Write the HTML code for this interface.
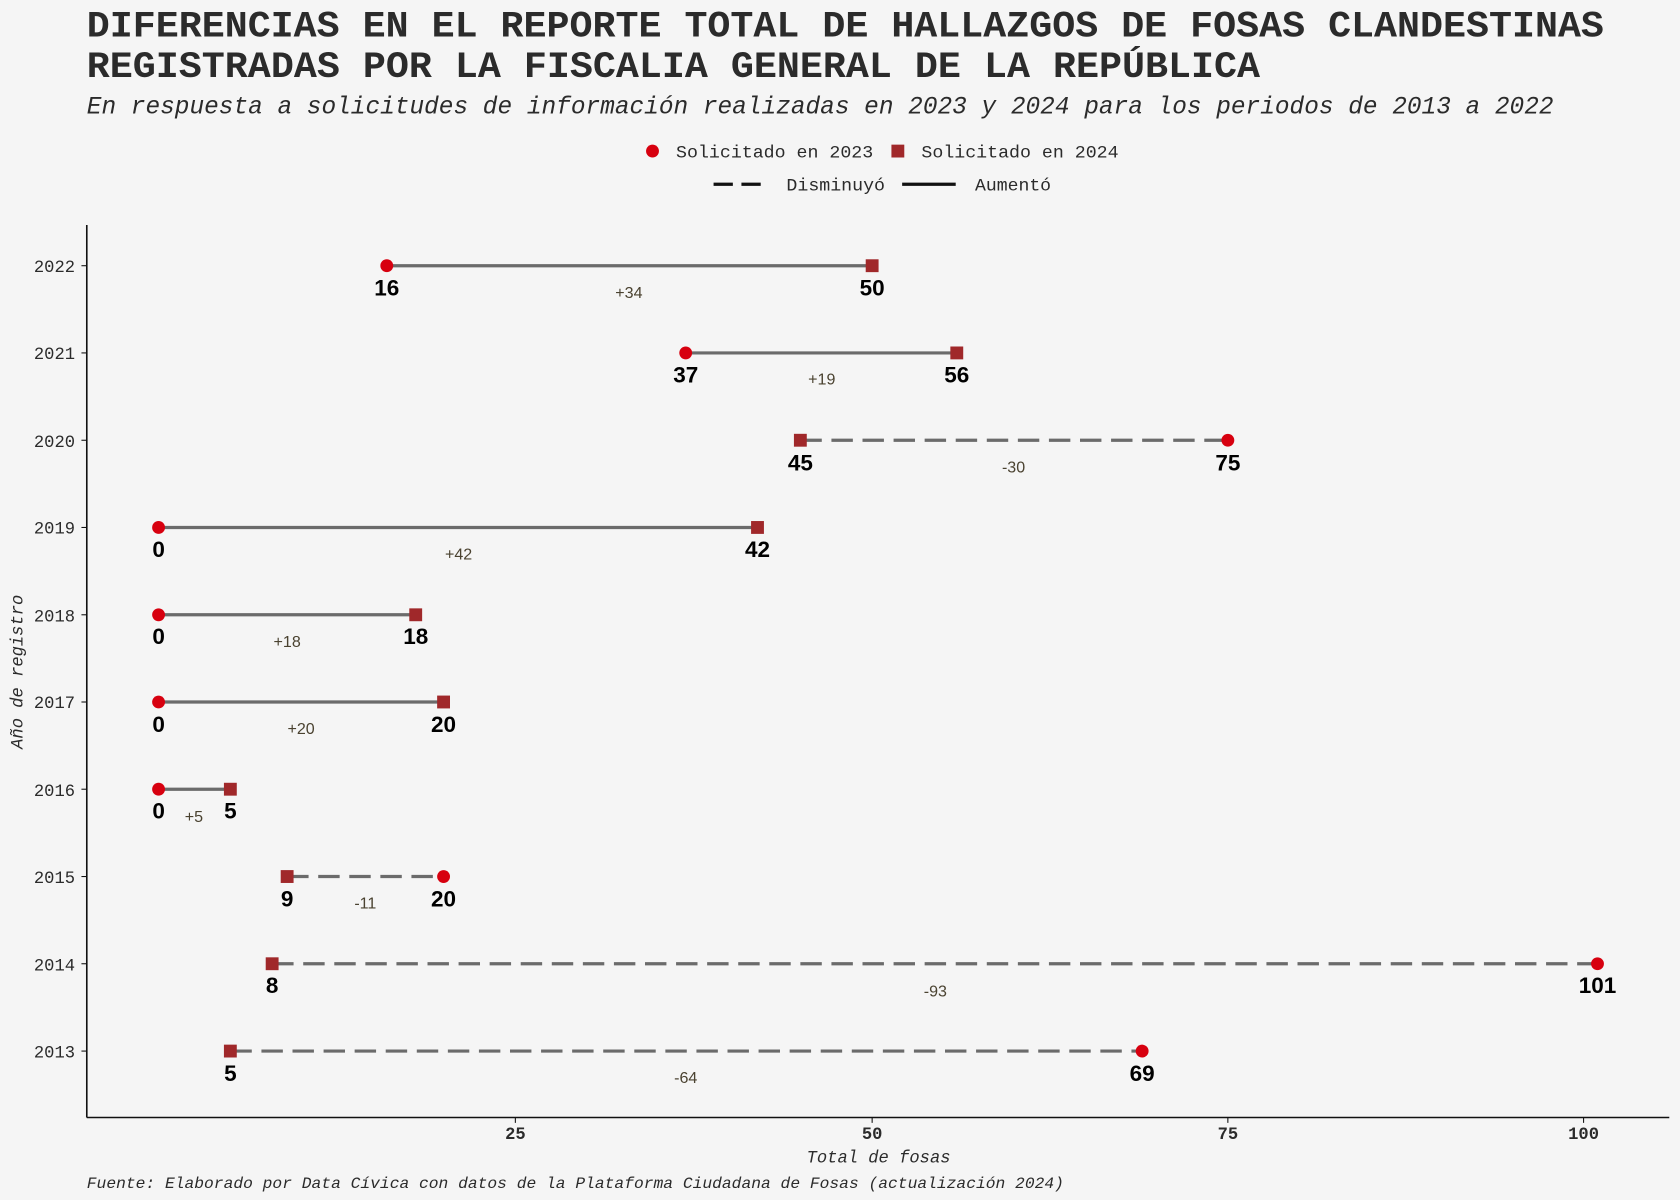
<!DOCTYPE html>
<html><head><meta charset="utf-8"><style>
html,body{margin:0;padding:0;background:#f5f5f5;}
svg{display:block}
</style></head><body>
<svg width="1680" height="1200" viewBox="0 0 1568 1120" xmlns="http://www.w3.org/2000/svg">
<rect width="1568" height="1120" fill="#f5f5f5"/>
<g font-family="Liberation Mono, monospace" fill="#2b2b2b">
<text x="81" y="34" font-size="35" font-weight="bold" textLength="1416" lengthAdjust="spacingAndGlyphs">DIFERENCIAS EN EL REPORTE TOTAL DE HALLAZGOS DE FOSAS CLANDESTINAS</text>
<text x="81" y="72" font-size="35" font-weight="bold" textLength="1095" lengthAdjust="spacingAndGlyphs">REGISTRADAS POR LA FISCALIA GENERAL DE LA REPÚBLICA</text>
<text x="81" y="106" font-size="23" font-style="italic" textLength="1369" lengthAdjust="spacingAndGlyphs">En respuesta a solicitudes de información realizadas en 2023 y 2024 para los periodos de 2013 a 2022</text>
<circle cx="609" cy="141" r="6" fill="#d7000f"/>
<text x="631" y="147" font-size="16" textLength="184" lengthAdjust="spacingAndGlyphs">Solicitado en 2023</text>
<rect x="832" y="135" width="12" height="12" fill="#a0282a"/>
<text x="860" y="147" font-size="16" textLength="184" lengthAdjust="spacingAndGlyphs">Solicitado en 2024</text>
<line x1="666" y1="172" x2="716" y2="172" stroke="#111" stroke-width="3" stroke-dasharray="18,8"/>
<text x="734" y="178" font-size="16" textLength="92" lengthAdjust="spacingAndGlyphs">Disminuyó</text>
<line x1="842" y1="172" x2="892" y2="172" stroke="#111" stroke-width="3"/>
<text x="910" y="178" font-size="16" textLength="71" lengthAdjust="spacingAndGlyphs">Aumentó</text>
<!-- axes -->
<line x1="81" y1="210" x2="81" y2="1043" stroke="#111" stroke-width="1.5"/>
<line x1="81" y1="1043" x2="1558" y2="1043" stroke="#111" stroke-width="1.5"/>
<g font-size="16" text-anchor="end">
<text x="70" y="254">2022</text><text x="70" y="335">2021</text><text x="70" y="417">2020</text><text x="70" y="498">2019</text><text x="70" y="580">2018</text><text x="70" y="661">2017</text><text x="70" y="743">2016</text><text x="70" y="824">2015</text><text x="70" y="906">2014</text><text x="70" y="987">2013</text>
</g>
<g stroke="#111" stroke-width="1">
<line x1="76" y1="248" x2="81" y2="248"/><line x1="76" y1="329.4" x2="81" y2="329.4"/><line x1="76" y1="410.9" x2="81" y2="410.9"/><line x1="76" y1="492.3" x2="81" y2="492.3"/><line x1="76" y1="573.8" x2="81" y2="573.8"/><line x1="76" y1="655.2" x2="81" y2="655.2"/><line x1="76" y1="736.6" x2="81" y2="736.6"/><line x1="76" y1="818.1" x2="81" y2="818.1"/><line x1="76" y1="899.5" x2="81" y2="899.5"/><line x1="76" y1="981" x2="81" y2="981"/>
<line x1="481" y1="1043" x2="481" y2="1048"/><line x1="814" y1="1043" x2="814" y2="1048"/><line x1="1146" y1="1043" x2="1146" y2="1048"/><line x1="1478" y1="1043" x2="1478" y2="1048"/>
</g>
<g font-size="16" text-anchor="middle" font-weight="bold">
<text x="481" y="1063">25</text><text x="814" y="1063">50</text><text x="1146" y="1063">75</text><text x="1478" y="1063">100</text>
</g>
<text x="820" y="1085" font-size="16" font-style="italic" text-anchor="middle">Total de fosas</text>
<text x="21" y="627" font-size="16" font-style="italic" text-anchor="middle" transform="rotate(-90 21 627)">Año de registro</text>
<text x="81" y="1109" font-size="15" font-style="italic" textLength="912" lengthAdjust="spacingAndGlyphs">Fuente: Elaborado por Data Cívica con datos de la Plataforma Ciudadana de Fosas (actualización 2024)</text>
</g>
<g stroke="#6b6b6b" stroke-width="3">
<line x1="361" y1="248" x2="814" y2="248"/>
<line x1="640" y1="329.4" x2="893" y2="329.4"/>
<line x1="747" y1="410.9" x2="1146" y2="410.9" stroke-dasharray="20,9"/>
<line x1="148" y1="492.3" x2="707" y2="492.3"/>
<line x1="148" y1="573.8" x2="388" y2="573.8"/>
<line x1="148" y1="655.2" x2="414" y2="655.2"/>
<line x1="148" y1="736.6" x2="215" y2="736.6"/>
<line x1="268" y1="818.1" x2="414" y2="818.1" stroke-dasharray="20,9"/>
<line x1="254" y1="899.5" x2="1491" y2="899.5" stroke-dasharray="20,9"/>
<line x1="215" y1="981" x2="1066" y2="981" stroke-dasharray="20,9"/>
</g>
<g fill="#d7000f">
<circle cx="361" cy="248" r="6"/><circle cx="640" cy="329.4" r="6"/><circle cx="1146" cy="410.9" r="6"/><circle cx="148" cy="492.3" r="6"/><circle cx="148" cy="573.8" r="6"/><circle cx="148" cy="655.2" r="6"/><circle cx="148" cy="736.6" r="6"/><circle cx="414" cy="818.1" r="6"/><circle cx="1491" cy="899.5" r="6"/><circle cx="1066" cy="981" r="6"/>
</g>
<g fill="#a0282a">
<rect x="808" y="242" width="12" height="12"/><rect x="887" y="323.4" width="12" height="12"/><rect x="741" y="404.9" width="12" height="12"/><rect x="701" y="486.3" width="12" height="12"/><rect x="382" y="567.8" width="12" height="12"/><rect x="408" y="649.2" width="12" height="12"/><rect x="209" y="730.6" width="12" height="12"/><rect x="262" y="812.1" width="12" height="12"/><rect x="248" y="893.5" width="12" height="12"/><rect x="209" y="975" width="12" height="12"/>
</g>
<g font-family="Liberation Sans, sans-serif" font-weight="bold" font-size="21" text-anchor="middle" fill="#000">
<text x="361" y="276">16</text><text x="814" y="276">50</text>
<text x="640" y="357">37</text><text x="893" y="357">56</text>
<text x="747" y="439">45</text><text x="1146" y="439">75</text>
<text x="148" y="520">0</text><text x="707" y="520">42</text>
<text x="148" y="601">0</text><text x="388" y="601">18</text>
<text x="148" y="683">0</text><text x="414" y="683">20</text>
<text x="148" y="764">0</text><text x="215" y="764">5</text>
<text x="268" y="846">9</text><text x="414" y="846">20</text>
<text x="254" y="927">8</text><text x="1491" y="927">101</text>
<text x="215" y="1009">5</text><text x="1066" y="1009">69</text>
</g>
<g font-family="Liberation Sans, sans-serif" font-size="15" text-anchor="middle" fill="#4a4230">
<text x="587" y="278">+34</text><text x="767" y="359">+19</text><text x="946" y="441">-30</text><text x="428" y="522">+42</text><text x="268" y="604">+18</text><text x="281" y="685">+20</text><text x="181" y="767">+5</text><text x="341" y="848">-11</text><text x="873" y="930">-93</text><text x="640" y="1011">-64</text>
</g>
</svg>
</body></html>
